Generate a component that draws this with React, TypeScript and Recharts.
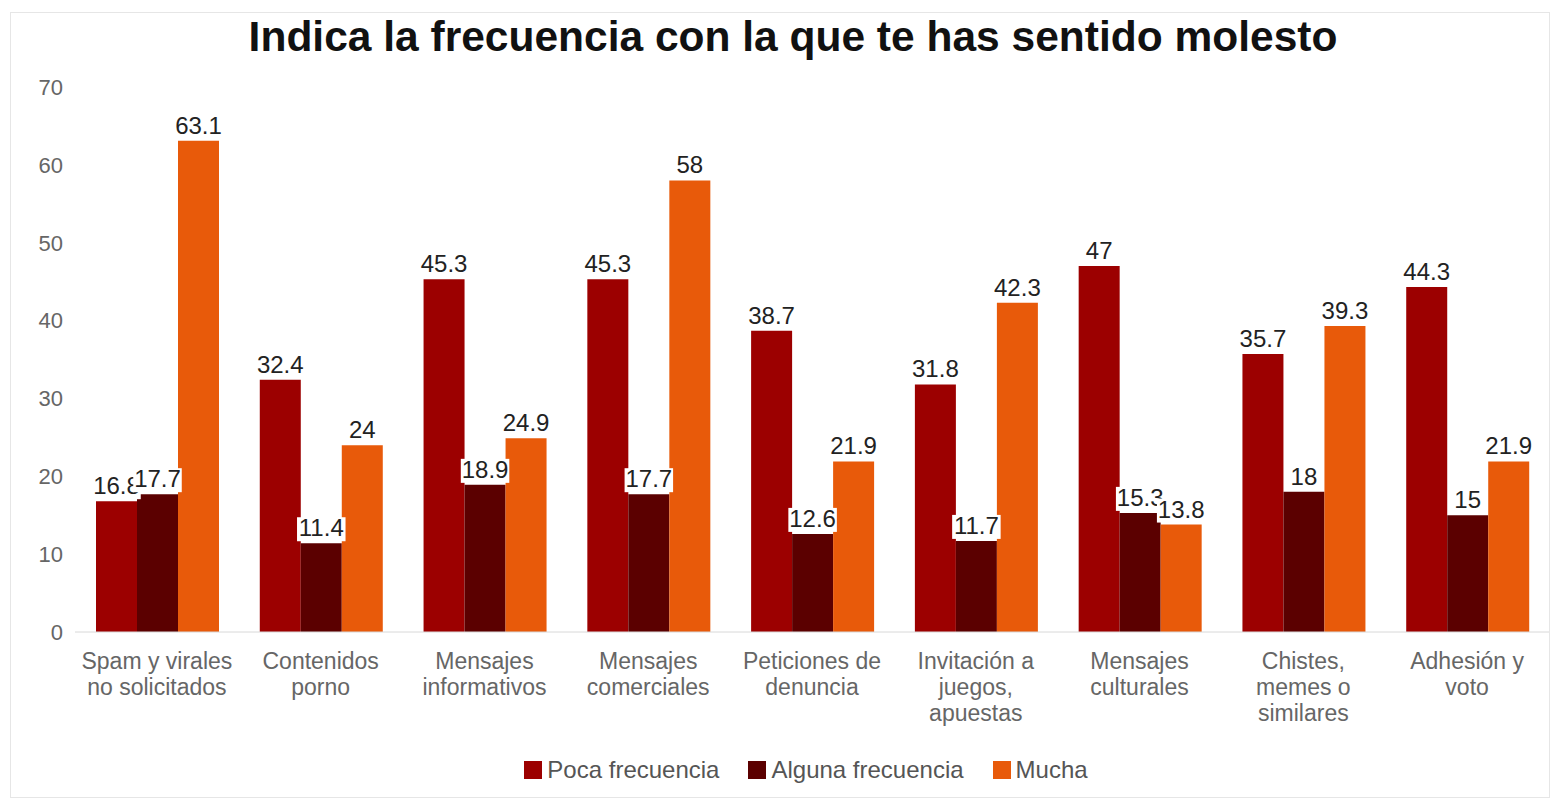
import { Bar, BarChart, LabelList, Legend, XAxis, YAxis } from "recharts";

const categories = [
  "Spam y virales\nno solicitados",
  "Contenidos\nporno",
  "Mensajes\ninformativos",
  "Mensajes\ncomerciales",
  "Peticiones de\ndenuncia",
  "Invitación a\njuegos,\napuestas",
  "Mensajes\nculturales",
  "Chistes,\nmemes o\nsimilares",
  "Adhesión y\nvoto",
];
const poca = [16.8, 32.4, 45.3, 45.3, 38.7, 31.8, 47, 35.7, 44.3];
const alguna = [17.7, 11.4, 18.9, 17.7, 12.6, 11.7, 15.3, 18, 15];
const mucha = [63.1, 24, 24.9, 58, 21.9, 42.3, 13.8, 39.3, 21.9];
const yTicks = [0, 10, 20, 30, 40, 50, 60, 70];

const series = [
  { key: "poca", name: "Poca frecuencia", color: "#9c0000" },
  { key: "alguna", name: "Alguna frecuencia", color: "#5b0000" },
  { key: "mucha", name: "Mucha", color: "#e85a0a" },
];

const data = categories.map((cat, i) => ({
  cat,
  poca: poca[i],
  alguna: alguna[i],
  mucha: mucha[i],
}));

const FONT = "'Liberation Sans', Arial, sans-serif";

function CategoryTick(props: any) {
  const { x, y, payload } = props;
  const lines = String(payload.value).split("\n");
  return (
    <text x={x} y={y + 29} textAnchor="middle" fill="#666" fontSize={23} fontFamily={FONT}>
      {lines.map((l, i) => (
        <tspan key={i} x={x} dy={i === 0 ? 0 : 26}>
          {l}
        </tspan>
      ))}
    </text>
  );
}

function ValueLabel(props: any) {
  const { x, y, width, value } = props;
  const cx = x + width / 2;
  const text = String(value);
  const dots = (text.match(/\./g) || []).length;
  const w = (text.length - dots) * 13.3 + dots * 6.6 + 2;
  return (
    <g>
      <rect x={cx - w / 2} y={y - 26} width={w} height={24} fill="#fff" />
      <text x={cx} y={y - 7} textAnchor="middle" fill="#222" fontSize={24} fontFamily={FONT}>
        {text}
      </text>
    </g>
  );
}

function LegendContent() {
  return (
    <div
      style={{
        display: "flex",
        justifyContent: "center",
        gap: 29,
        fontFamily: FONT,
        fontSize: 24,
        color: "#555",
        height: 30,
        alignItems: "center",
        paddingLeft: 48,
      }}
    >
      {series.map((s) => (
        <div key={s.key} style={{ display: "flex", alignItems: "center" }}>
          <span style={{ width: 18, height: 18, background: s.color, display: "inline-block", marginRight: 5 }} />
          {s.name}
        </div>
      ))}
    </div>
  );
}

export default function App() {
  return (
    <div style={{ position: "absolute", left: 0, top: 0, width: 1554, height: 801, background: "#fff" }}>
      <div
        style={{
          position: "absolute",
          left: 10,
          top: 12,
          width: 1540,
          height: 786,
          border: "1px solid #e6e6e6",
          boxSizing: "border-box",
        }}
      />
      <div
        style={{
          position: "absolute",
          left: 0,
          top: 13,
          width: 1586,
          textAlign: "center",
          fontFamily: FONT,
          fontWeight: "bold",
          fontSize: 42.5,
          lineHeight: "48px",
          color: "#111",
        }}
      >
        Indica la frecuencia con la que te has sentido molesto
      </div>
      <div style={{ position: "absolute", left: 0, top: 0 }}>
        <BarChart
          width={1554}
          height={801}
          data={data}
          margin={{ top: 87, right: 5, bottom: 39, left: 15 }}
          barGap={0}
          barCategoryGap={21}
        >
          <XAxis
            dataKey="cat"
            tick={<CategoryTick />}
            tickLine={false}
            axisLine={{ stroke: "#d8d8d8" }}
            interval={0}
            height={100}
          />
          <YAxis
            domain={[0, 70]}
            ticks={yTicks}
            width={60}
            tickLine={false}
            axisLine={false}
            tickMargin={6}
            tick={{ fill: "#666", fontSize: 22, fontFamily: FONT }}
          />
          <Legend verticalAlign="bottom" height={30} content={<LegendContent />} wrapperStyle={{ bottom: 16 }} />
          {series.map((s) => (
            <Bar key={s.key} dataKey={s.key} name={s.name} fill={s.color} isAnimationActive={false}>
              <LabelList dataKey={s.key} content={<ValueLabel />} />
            </Bar>
          ))}
        </BarChart>
      </div>
    </div>
  );
}
